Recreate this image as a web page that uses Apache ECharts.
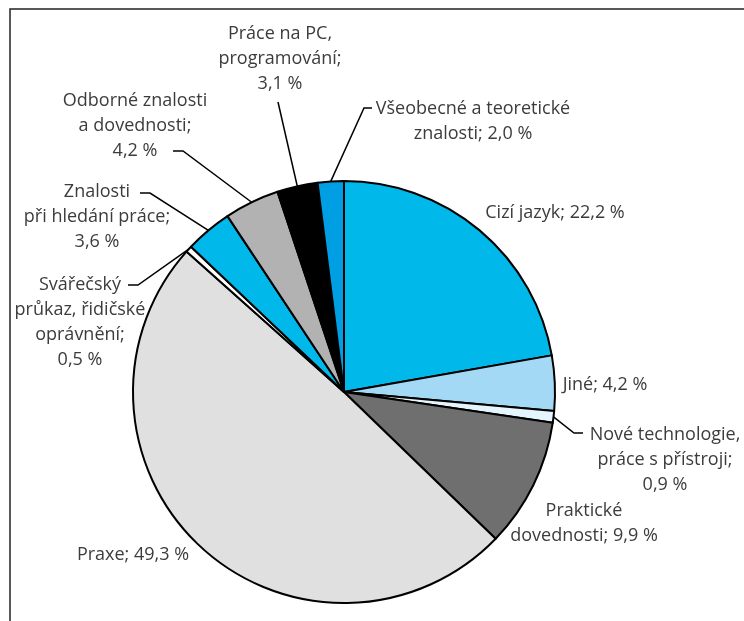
<!DOCTYPE html>
<html>
<head>
<meta charset="utf-8">
<script src="https://cdn.jsdelivr.net/npm/echarts@6/dist/echarts.min.js"></script>
<style>
  html, body { margin: 0; padding: 0; background: #fff; }
  #chart { width: 744px; height: 621px; }
</style>
</head>
<body>
<div id="chart"></div>
<script>
// Categories, clockwise from 12 o'clock
const categories = [
  'Cizí jazyk',
  'Jiné',
  'Nové technologie,\npráce s přístroji',
  'Praktické\ndovednosti',
  'Praxe',
  'Svářečský\nprůkaz, řidičské\noprávnění',
  'Znalosti\npři hledání práce',
  'Odborné znalosti\na dovednosti',
  'Práce na PC,\nprogramování',
  'Všeobecné a teoretické\nznalosti'
];
const shares = [22.2, 4.2, 0.9, 9.9, 49.3, 0.5, 3.6, 4.2, 3.1, 2.0];
const sliceColors = ['#00b9ea', '#a3d9f5', '#e4f5fd', '#6f6f6f', '#e0e0e0',
                     '#ffffff', '#00b9ea', '#b2b2b2', '#000000', '#009fe3'];

// Label placement: text anchor (centre), whether the value goes on its own line,
// and for leader lines the elbow / end point next to the text.
const labelPlacement = [
  { x: 555, y: 213, br: false },
  { x: 605, y: 385, br: false },
  { x: 665, y: 460, br: true, elbow: [574, 433], end: [583, 433] },
  { x: 584, y: 523, br: false },
  { x: 133, y: 555, br: false },
  { x: 80,  y: 322, br: true, elbow: [138, 285], end: [128, 285] },
  { x: 97,  y: 217, br: true, elbow: [150, 193], end: [140, 193] },
  { x: 135, y: 126, br: true, elbow: [183, 151], end: [173, 151] },
  { x: 280, y: 59,  br: true, end: [278, 102] },
  { x: 473, y: 121, br: false, elbow: [364, 108], end: [372, 108] }
];

const fmt = v => v.toFixed(1).replace('.', ',') + ' %';

const chart = echarts.init(document.getElementById('chart'), null, { renderer: 'canvas' });

chart.setOption({
  backgroundColor: '#ffffff',
  animation: false,
  graphic: [{
    type: 'rect',
    shape: { x: 10, y: 9, width: 900, height: 800 },
    style: { fill: 'none', stroke: '#222', lineWidth: 1.5 },
    silent: true
  }],
  series: [{
    type: 'pie',
    center: [344, 392],
    radius: 211,
    startAngle: 90,
    clockwise: true,
    avoidLabelOverlap: false,
    itemStyle: { borderColor: '#000', borderWidth: 2 },
    label: {
      show: true,
      position: 'outside',
      fontFamily: '"Open Sans", sans-serif',
      fontSize: 18,
      lineHeight: 25,
      color: '#3c3c3c',
      align: 'center',
      formatter: p => p.name + ';' + (labelPlacement[p.dataIndex].br ? '\n' : ' ') + fmt(p.value)
    },
    labelLine: { show: true, length: 10, length2: 10, lineStyle: { color: '#000', width: 1.5 } },
    labelLayout: params => {
      const lp = labelPlacement[params.dataIndex];
      const out = { x: lp.x, y: lp.y, align: 'center', verticalAlign: 'middle' };
      if (lp.end && params.labelLinePoints) {
        const start = params.labelLinePoints[0];
        out.labelLinePoints = lp.elbow ? [start, lp.elbow, lp.end] : [start, lp.end];
      }
      return out;
    },
    data: categories.map((name, i) => ({
      name: name,
      value: shares[i],
      itemStyle: { color: sliceColors[i] },
      labelLine: { show: !!labelPlacement[i].end }
    }))
  }]
});
</script>
</body>
</html>
